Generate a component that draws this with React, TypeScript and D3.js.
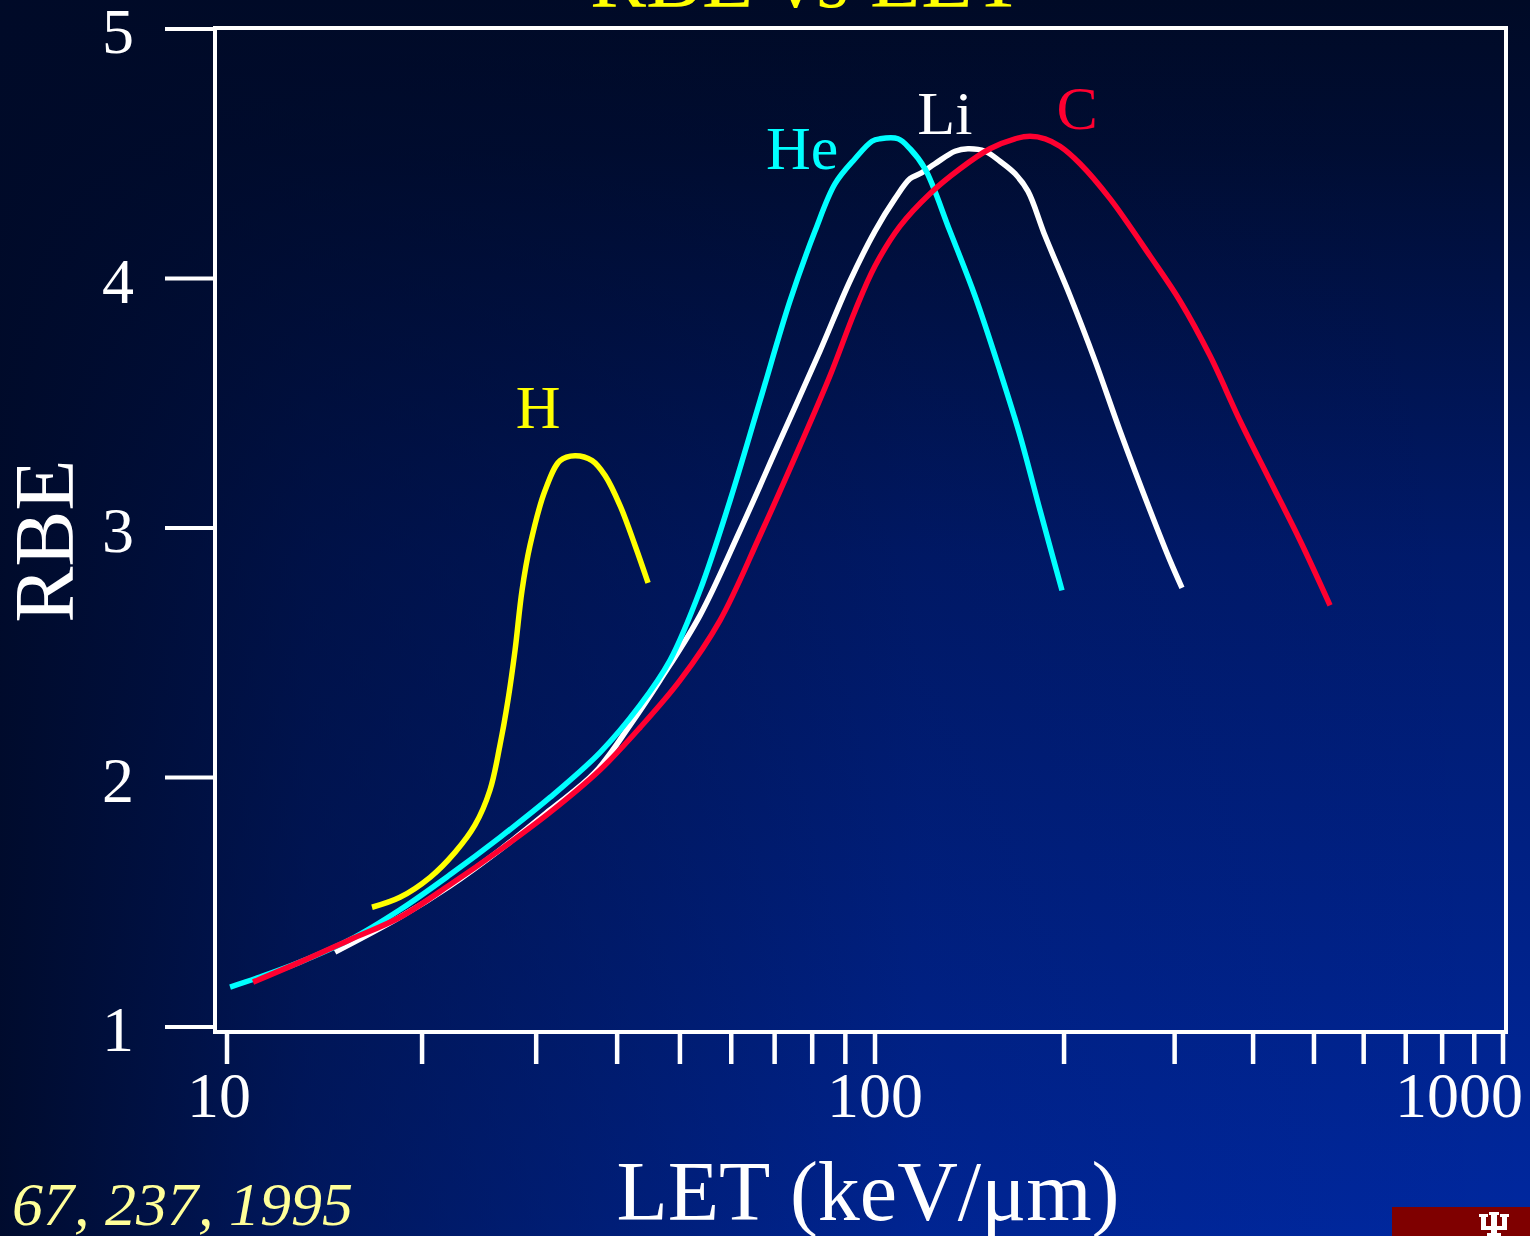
import React from "react";
import * as d3 from "d3";

// LET (keV/um) and RBE values
const hLET = [16.74, 18.49, 20.58, 22.48, 24.14, 25.46, 26.38, 27.14, 27.83, 28.53, 29.35, 30.96, 32.66, 34.44, 36.6, 38.33, 40.42, 42.63, 44.65];
const hRBE = [1.48, 1.52, 1.6, 1.7, 1.81, 1.95, 2.13, 2.31, 2.51, 2.75, 2.93, 3.15, 3.27, 3.29, 3.27, 3.21, 3.09, 2.93, 2.78];

const heLET = [10.11, 11.24, 12.96, 15.48, 18.49, 22.08, 26.38, 31.51, 37.63, 43.39, 48.27, 53.7, 59.74, 66.46, 73.93, 80.81, 86.78, 93.14, 98.94, 101.85, 108.8, 113.7, 120.1, 131.6, 144.3, 158.1, 170.2, 183.2, 198.5];
const heRBE = [1.16, 1.2, 1.26, 1.35, 1.47, 1.61, 1.76, 1.92, 2.1, 2.29, 2.47, 2.75, 3.11, 3.51, 3.91, 4.19, 4.38, 4.48, 4.55, 4.56, 4.56, 4.52, 4.44, 4.19, 3.93, 3.63, 3.37, 3.07, 2.75];

const liLET = [14.68, 18.49, 22.08, 26.38, 31.51, 36.97, 41.88, 46.59, 53.7, 61.9, 71.35, 82.26, 91.49, 100, 107.6, 113.7, 117.9, 124.6, 134.1, 140.6, 149.7, 158.1, 167.1, 175.2, 186.6, 204.5, 224.1, 245.5, 274.2, 294.9, 308.2];
const liRBE = [1.3, 1.44, 1.565, 1.71, 1.87, 2.02, 2.21, 2.39, 2.65, 2.99, 3.35, 3.71, 3.99, 4.19, 4.32, 4.4, 4.42, 4.46, 4.51, 4.52, 4.51, 4.47, 4.42, 4.35, 4.17, 3.93, 3.67, 3.39, 3.07, 2.87, 2.76];

const cLET = [10.97, 12.96, 15.48, 18.49, 22.08, 26.38, 31.51, 37.63, 43.39, 50.04, 57.66, 66.46, 76.62, 85.22, 93.14, 100, 109.6, 122.3, 136.6, 152.4, 167.1, 176.5, 186.6, 197.0, 212.1, 236.7, 274.2, 306.0, 341.6, 381.3, 425.6, 475.2, 530.4];
const cRBE = [1.18, 1.26, 1.35, 1.44, 1.57, 1.71, 1.86, 2.03, 2.2, 2.39, 2.63, 2.97, 3.33, 3.61, 3.87, 4.05, 4.21, 4.34, 4.44, 4.52, 4.56, 4.57, 4.56, 4.53, 4.46, 4.32, 4.09, 3.91, 3.69, 3.43, 3.19, 2.95, 2.69];

const ions = ["H", "Li", "He", "C"];
const ionColors = ["#ffff00", "#ffffff", "#00ffff", "#ff0030"];
// where each ion's name sits (LET, RBE)
const labelLET = [30.2, 129.2, 77.2, 209.8];
const labelRBE = [3.4, 4.58, 4.44, 4.6];

const xTicks = [10, 20, 30, 40, 50, 60, 70, 80, 90, 100, 200, 300, 400, 500, 600, 700, 800, 900, 1000];
const xLabels = [10, 100, 1000];
const yTicks = [1, 2, 3, 4, 5];

const W = 1530;
const H = 1236;
const frame = {left: 215, right: 1506, top: 28, bottom: 1032};
const serif = "'Liberation Serif', 'Times New Roman', serif";

export default function App()
{
    // the original axis is hand drawn: decades are not equally wide
    const x = d3.scaleLog().domain([10, 100, 1000]).range([227, 875, 1503]);
    const y = d3.scaleLinear().domain([1, 5]).range([1027, 29]);

    const series = [
        {lets: hLET, rbes: hRBE},
        {lets: liLET, rbes: liRBE},
        {lets: heLET, rbes: heRBE},
        {lets: cLET, rbes: cRBE},
    ];

    const line = d3
        .line<[number, number]>()
        .x((d) => x(d[0]))
        .y((d) => y(d[1]))
        .curve(d3.curveCatmullRom.alpha(0.5));

    return (
        <svg width={W} height={H} style={{position: "absolute", left: 0, top: 0, display: "block"}}>
            <defs>
                <linearGradient id="bgv" x1="0" y1="0" x2="0" y2="1">
                    <stop offset="0" stopColor="#000a26"/>
                    <stop offset="0.12" stopColor="#000d33"/>
                    <stop offset="0.45" stopColor="#001a6c"/>
                    <stop offset="1" stopColor="#0028a0"/>
                </linearGradient>
                <linearGradient id="bgh" x1="0" y1="0" x2="1" y2="0">
                    <stop offset="0" stopColor="#000a28" stopOpacity="0.95"/>
                    <stop offset="0.2" stopColor="#000a28" stopOpacity="0.55"/>
                    <stop offset="0.6" stopColor="#000a28" stopOpacity="0.12"/>
                    <stop offset="1" stopColor="#000a28" stopOpacity="0"/>
                </linearGradient>
            </defs>
            <rect width={W} height={H} fill="url(#bgv)"/>
            <rect width={W} height={H} fill="url(#bgh)"/>

            <text x={807} y={7} fill="#ffff00" fontFamily={serif} fontSize={84} textAnchor="middle">RBE vs LET</text>

            <rect x={frame.left} y={frame.top} width={frame.right - frame.left} height={frame.bottom - frame.top}
                  fill="none" stroke="#fff" strokeWidth={4}/>

            {yTicks.map((t) => (
                <g key={t}>
                    <line x1={165} x2={frame.left} y1={y(t)} y2={y(t)} stroke="#fff" strokeWidth={4}/>
                    <text x={134} y={y(t) + 24} fill="#fff" fontFamily={serif} fontSize={64} textAnchor="end">{t}</text>
                </g>
            ))}

            {xTicks.map((t) => (
                <line key={t} x1={x(t)} x2={x(t)} y1={frame.bottom + 2} y2={1064} stroke="#fff" strokeWidth={4.5}/>
            ))}
            {xLabels.map((t, i) => (
                <text key={t} x={i === xLabels.length - 1 ? 1523 : x(t) - (i === 0 ? 8 : 0)} y={1117} fill="#fff"
                      fontFamily={serif} fontSize={64} textAnchor={i === xLabels.length - 1 ? "end" : "middle"}>{t}</text>
            ))}

            <text transform="translate(73, 541) rotate(-90)" fill="#fff" fontFamily={serif} fontSize={84}
                  textAnchor="middle">RBE</text>
            <text x={868} y={1220} fill="#fff" fontFamily={serif} fontSize={84} textAnchor="middle">LET (keV/μm)</text>

            {series.map((s, i) => (
                <path key={ions[i]} d={line(s.lets.map((v, j) => [v, s.rbes[j]]) as [number, number][]) || ""}
                      fill="none" stroke={ionColors[i]} strokeWidth={5.5} strokeLinejoin="round"/>
            ))}
            {ions.map((name, i) => (
                <text key={name} x={x(labelLET[i])} y={y(labelRBE[i])} fill={ionColors[i]} fontFamily={serif}
                      fontSize={62} textAnchor="middle">{name}</text>
            ))}

            <text x={12} y={1225} fill="#ffff99" fontFamily={serif} fontSize={62} fontStyle="italic">67, 237, 1995</text>

            <rect x={1392} y={1207} width={W - 1392} height={H - 1207} fill="#7f0000"/>
            <g fill="#fff">
                <rect x={1479} y={1214} width={9} height={3}/>
                <rect x={1500} y={1214} width={9} height={3}/>
                <rect x={1489} y={1212} width={10} height={3}/>
                <rect x={1481} y={1216} width={5} height={13}/>
                <rect x={1502} y={1216} width={5} height={13}/>
                <rect x={1491} y={1214} width={6} height={22}/>
                <rect x={1481} y={1226} width={26} height={4}/>
                <rect x={1487} y={1233} width={14} height={3}/>
            </g>
        </svg>
    );
}
